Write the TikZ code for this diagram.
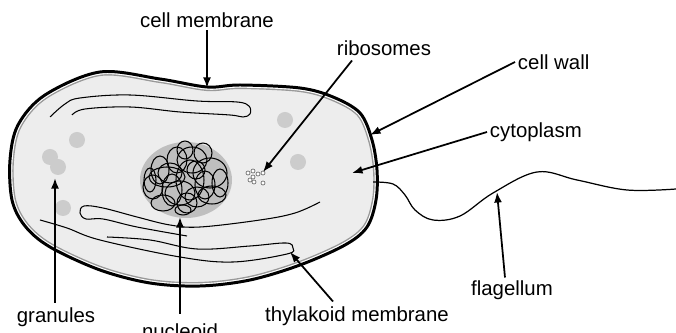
\documentclass[tikz,border=0pt]{standalone}
\usepackage{fontspec}
\setmainfont{Liberation Sans}
\usetikzlibrary{arrows.meta,calc}

\tikzset{
	lbl/.style={font=\fontsize{11.6}{13}\selectfont, inner sep=1.5pt},
	pointer/.style={line width=1pt, -{Latex[length=6pt,width=4.5pt]}},
	thyl/.style={line width=0.6pt},
	granule/.style={fill=black!20},
}

% Umriss der Zelle
\def\zelle{plot[smooth cycle, tension=0.55] coordinates {(100,72) (160,79) (207,87) (240,85) (300,88) (333,97) (360,113) (372,140) (377,170) (376,200) (367,227) (345,245) (300,265) (250,280) (200,286) (150,283) (100,270) (50,247) (25,226) (12,200) (10,160) (18,125) (45,95)}}

\begin{document}
\begin{tikzpicture}[x=0.02cm,y=-0.02cm]
		\useasboundingbox (0,0) rectangle (676,333);

		%Zelle mit Wand und Membran
		\fill[black!7] \zelle;
		\begin{scope}
			\clip \zelle;
			\draw[black!40, line width=4.6pt] \zelle;
			\draw[white, line width=3pt] \zelle;
		\end{scope}
		\draw[line width=1.7pt] \zelle;

		%Granula
		\foreach \x/\y in {50/157, 58/167, 77/140, 63/208, 285/120, 298/162}
			\fill[granule] (\x,\y) circle (8);

		%Thylakoide
		\draw[thyl] plot[smooth, tension=0.6] coordinates {(50,117) (65,104) (80,98) (130,95) (197,101) (237,102) (249,106) (250,114) (243,117) (230,115) (180,112) (130,107) (85,109) (72,115)};
		\draw[thyl] plot[smooth, tension=0.6] coordinates {(320,202) (295,213) (260,220) (200,227) (170,225) (137,217) (103,208) (84,206) (80,213) (86,219) (103,219) (137,227) (187,236)};
		\draw[thyl] plot[smooth, tension=0.6] coordinates {(107,237) (150,240) (197,249) (250,246) (286,243) (293,248) (287,254) (233,262) (180,257) (100,240) (67,228) (40,220)};

		%Nucleoid
		\fill[black!25] (186,180) ellipse [x radius=46, y radius=38];
		\foreach \cx/\cy/\rx/\ry in {192/160/15/13, 170/173/12/10, 210/173/17/15, 153/187/10/12, 180/193/15/12, 197/197/12/10, 163/203/12/8, 187/203/10/10, 177/160/10/13, 203/153/9/10, 220/183/8/14, 167/177/18/10, 183/210/8/5, 190/180/14/20, 160/170/9/14, 212/195/14/9, 150/180/6/12, 196/170/9/9, 172/190/10/16, 205/185/10/14, 185/150/8/9}
			\draw[line width=0.6pt] (\cx,\cy) ellipse [x radius=\rx, y radius=\ry];

		%Ribosomen
		\foreach \x/\y in {248/173, 253/171, 258/174, 263/173, 250/180, 254/182, 263/183, 253/177}
			\draw[black!55, fill=white, line width=0.4pt] (\x,\y) circle (2);

		%Geissel
		\draw[line width=0.7pt] plot[smooth, tension=0.6] coordinates {(373,182) (393,184) (405,195) (415,210) (433,220) (460,216) (493,193) (537,172) (577,180) (627,190) (676,189)};

		%Beschriftungen
		\node[lbl] (mem) at (207,20) {cell membrane};
		\node[lbl] (ribo) at (384,48) {ribosomes};
		\node[lbl, anchor=west] (wall) at (515,62) {cell wall};
		\node[lbl, anchor=west] (cyto) at (487,132) {cytoplasm};
		\node[lbl] (flag) at (512,290) {flagellum};
		\node[lbl] (thy) at (357,316) {thylakoid membrane};
		\node[lbl, anchor=north] (nuc) at (180,321) {nucleoid};
		\node[lbl] (gran) at (56,317) {granules};

		\coordinate (memT) at (207,88);
		\coordinate (riboT) at (263,172);
		\coordinate (wallT) at (370,135);
		\coordinate (cytoT) at (352,173);
		\coordinate (flagT) at (497,192);
		\coordinate (thyT) at (290,252);
		\coordinate (nucT) at (180,217);
		\coordinate (granT) at (55,178);

		\draw[pointer] (mem) -- (memT);
		\draw[pointer] ($(ribo.south west)+(18,2)$) -- (riboT);
		\draw[pointer] (wall.west) -- (wallT);
		\draw[pointer] (cyto.west) -- (cytoT);
		\draw[pointer] ($(flag.north)+(-7,0)$) -- (flagT);
		\draw[pointer] ($(thy.north)+(-24,-2)$) -- (thyT);
		\draw[pointer] ($(nuc.north)+(0,-7)$) -- (nucT);
		\draw[pointer] ($(gran.north)+(-1,-2)$) -- (granT);
	\end{tikzpicture}
\end{document}
